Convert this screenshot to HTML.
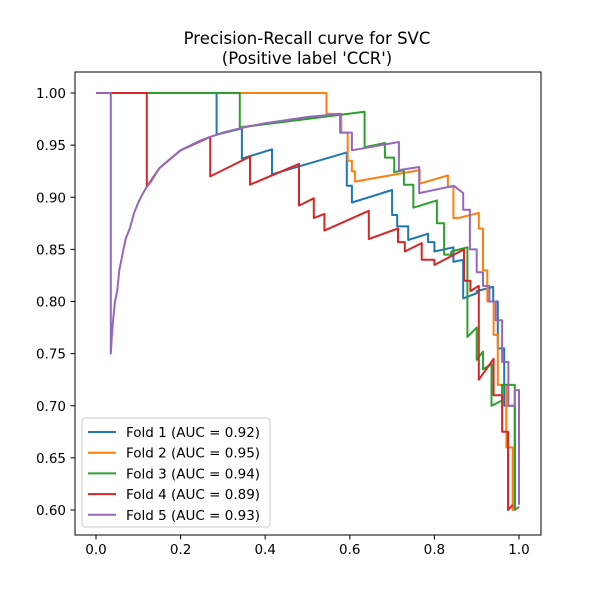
<!DOCTYPE html>
<html><head><meta charset="utf-8"><style>
body{margin:0;background:#fff}
svg{font-family:"DejaVu Sans","Liberation Sans",sans-serif}
</style></head><body>
<svg id="c" width="600" height="600">
<rect width="600" height="600" fill="#fff"/>
<text x="307" y="44" font-size="16.5" text-anchor="middle">Precision-Recall curve for SVC</text>
<text x="307" y="64" font-size="16.5" text-anchor="middle">(Positive label 'CCR')</text>
<g id="ticks"></g>
<g id="lines"></g>
<rect x="75" y="72" width="466" height="463" fill="none" stroke="#000" stroke-width="1"/>
<g id="legend"></g>
</svg>
<script>
const xTicks=[0,0.2,0.4,0.6,0.8,1.0];
const yTicks=[0.60,0.65,0.70,0.75,0.80,0.85,0.90,0.95,1.00];
const seriesNames=["Fold 1 (AUC = 0.92)","Fold 2 (AUC = 0.95)","Fold 3 (AUC = 0.94)","Fold 4 (AUC = 0.89)","Fold 5 (AUC = 0.93)"];
const colors=["#1f77b4","#ff7f0e","#2ca02c","#d62728","#9467bd"];
const curveR=[0.035,0.037,0.04,0.045,0.05,0.055,0.06,0.07,0.08,0.09,0.1,0.11,0.12,0.13,0.15,0.17,0.2,0.25,0.3,0.35,0.4,0.5,0.577];
const curveP=[0.75,0.765,0.78,0.80,0.81,0.83,0.84,0.86,0.87,0.885,0.895,0.903,0.91,0.915,0.928,0.935,0.945,0.955,0.962,0.967,0.971,0.977,0.98];
const fold1=[[0,1],[0.285,1],[0.285,0.96],[0.345,0.966],[0.345,0.937],[0.416,0.946],[0.416,0.922],[0.593,0.943],[0.593,0.911],[0.605,0.911],[0.605,0.895],[0.70,0.907],[0.70,0.883],[0.712,0.883],[0.712,0.872],[0.738,0.872],[0.738,0.859],[0.785,0.865],[0.785,0.857],[0.80,0.857],[0.80,0.848],[0.845,0.852],[0.845,0.838],[0.868,0.84],[0.868,0.803],[0.90,0.808],[0.90,0.81],[0.939,0.814],[0.939,0.80],[0.95,0.80],[0.95,0.755],[0.965,0.755],[0.965,0.70],[0.99,0.70],[0.99,0.60],[1.0,0.603]];
const fold2=[[0,1],[0.545,1],[0.545,0.98],[0.58,0.98],[0.58,0.962],[0.595,0.962],[0.595,0.935],[0.605,0.935],[0.605,0.925],[0.612,0.925],[0.612,0.915],[0.765,0.926],[0.765,0.913],[0.832,0.921],[0.832,0.91],[0.845,0.91],[0.845,0.88],[0.856,0.88],[0.905,0.885],[0.905,0.87],[0.915,0.87],[0.915,0.83],[0.925,0.83],[0.925,0.80],[0.94,0.80],[0.94,0.768],[0.95,0.768],[0.95,0.72],[0.97,0.72],[0.97,0.66],[0.985,0.66],[0.985,0.60],[0.995,0.602]];
const fold3=[[0,1],[0.34,1],[0.34,0.967],[0.635,0.982],[0.635,0.948],[0.683,0.952],[0.683,0.938],[0.705,0.938],[0.705,0.924],[0.728,0.926],[0.728,0.912],[0.75,0.912],[0.75,0.89],[0.806,0.897],[0.806,0.875],[0.823,0.875],[0.823,0.845],[0.84,0.845],[0.84,0.848],[0.878,0.852],[0.878,0.766],[0.9,0.775],[0.9,0.744],[0.915,0.752],[0.915,0.735],[0.935,0.74],[0.935,0.70],[0.96,0.705],[0.96,0.72],[0.99,0.72],[0.99,0.60]];
const fold4=[[0,1],[0.12,1],[0.12,0.91],[0.15,0.928],[0.2,0.945],[0.27,0.958],[0.27,0.92],[0.364,0.939],[0.364,0.912],[0.48,0.932],[0.48,0.892],[0.515,0.899],[0.515,0.88],[0.54,0.884],[0.54,0.868],[0.645,0.887],[0.645,0.86],[0.714,0.87],[0.714,0.857],[0.73,0.857],[0.73,0.848],[0.77,0.856],[0.77,0.84],[0.8,0.84],[0.8,0.835],[0.87,0.85],[0.87,0.82],[0.885,0.82],[0.885,0.81],[0.905,0.815],[0.905,0.725],[0.94,0.745],[0.94,0.71],[0.96,0.71],[0.96,0.675],[0.974,0.675],[0.974,0.60],[0.985,0.605]];
const fold5tail=[[0.577,0.962],[0.605,0.962],[0.605,0.945],[0.716,0.953],[0.716,0.926],[0.764,0.929],[0.764,0.904],[0.846,0.911],[0.868,0.904],[0.868,0.888],[0.884,0.888],[0.884,0.85],[0.9,0.85],[0.9,0.828],[0.915,0.828],[0.915,0.815],[0.93,0.815],[0.93,0.80],[0.945,0.80],[0.945,0.782],[0.96,0.782],[0.96,0.742],[0.975,0.742],[0.975,0.70],[0.99,0.70],[0.99,0.715],[1.0,0.715],[1.0,0.605]];
const fold5=[[0,1],[0.035,1]].concat(curveR.map((r,i)=>[r,curveP[i]])).concat(fold5tail);
const folds=[fold1,fold2,fold3,fold4,fold5];
const X=v=>96+v*423, Y=v=>93+(1-v)*1042.5;
const NS="http://www.w3.org/2000/svg";
const tg=document.getElementById('ticks');
xTicks.forEach(t=>{
 const l=document.createElementNS(NS,'line');l.setAttribute('x1',X(t));l.setAttribute('x2',X(t));l.setAttribute('y1',535);l.setAttribute('y2',539.5);l.setAttribute('stroke','#000');
 
 
 tg.appendChild(l);
 const tx=document.createElementNS(NS,'text');tx.setAttribute('x',X(t));tx.setAttribute('y',554);tx.setAttribute('font-size','13.5');tx.setAttribute('text-anchor','middle');tx.textContent=t.toFixed(1);
 
 
 tg.appendChild(tx);
});
yTicks.forEach(t=>{
 const l=document.createElementNS(NS,'line');l.setAttribute('x1',70.5);l.setAttribute('x2',75);l.setAttribute('y1',Y(t));l.setAttribute('y2',Y(t));l.setAttribute('stroke','#000');
 
 
 tg.appendChild(l);
 const tx=document.createElementNS(NS,'text');tx.setAttribute('x',66);tx.setAttribute('y',Y(t)+5);tx.setAttribute('font-size','13.5');tx.setAttribute('text-anchor','end');tx.textContent=t.toFixed(2);
 
 
 tg.appendChild(tx);
});
const lg=document.getElementById('lines');
folds.forEach((f,i)=>{
 const p=document.createElementNS(NS,'path');
 p.setAttribute('d',f.map((pt,j)=>(j?'L':'M')+X(pt[0]).toFixed(1)+','+Y(pt[1]).toFixed(1)).join(''));
 p.setAttribute('fill','none');p.setAttribute('stroke',colors[i]);p.setAttribute('stroke-width','2');p.setAttribute('stroke-linejoin','round');
 
 
 lg.appendChild(p);
});
const leg=document.getElementById('legend');
const box=document.createElementNS(NS,'rect');box.setAttribute('x',82);box.setAttribute('y',418);box.setAttribute('width',188);box.setAttribute('height',109);box.setAttribute('rx',3);box.setAttribute('fill','#fff');box.setAttribute('fill-opacity','0.8');box.setAttribute('stroke','#ccc');


leg.appendChild(box);
seriesNames.forEach((n,i)=>{
 const y=432+i*20.7;
 const l=document.createElementNS(NS,'line');l.setAttribute('x1',88);l.setAttribute('x2',116);l.setAttribute('y1',y);l.setAttribute('y2',y);l.setAttribute('stroke',colors[i]);l.setAttribute('stroke-width','2');
 
 
 leg.appendChild(l);
 const t=document.createElementNS(NS,'text');t.setAttribute('x',126);t.setAttribute('y',y+5);t.setAttribute('font-size','13.5');t.textContent=n;
 
 
 leg.appendChild(t);
});
</script>
</body></html>
